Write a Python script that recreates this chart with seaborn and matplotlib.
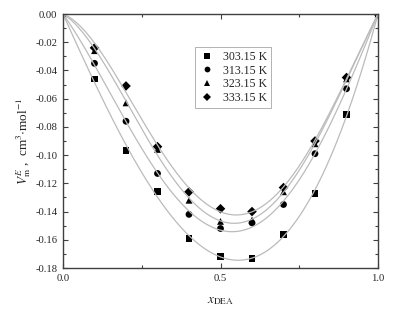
import numpy as np
import pandas as pd
import matplotlib
matplotlib.use("Agg")
import matplotlib.pyplot as plt
import seaborn as sns
from matplotlib.ticker import MultipleLocator

x_dea = [0.0, 0.1, 0.2, 0.3, 0.4, 0.5, 0.6, 0.7, 0.8, 0.9, 1.0]
v_303 = [0.0, -0.046, -0.097, -0.126, -0.159, -0.172, -0.173, -0.156, -0.127, -0.071, 0.0]
v_313 = [0.0, -0.035, -0.076, -0.113, -0.142, -0.152, -0.148, -0.135, -0.099, -0.053, 0.0]
v_323 = [0.0, -0.026, -0.063, -0.096, -0.132, -0.147, -0.146, -0.126, -0.092, -0.046, 0.0]
v_333 = [0.0, -0.024, -0.051, -0.094, -0.126, -0.138, -0.140, -0.123, -0.090, -0.045, 0.0]
labels = ["303.15 K", "313.15 K", "323.15 K", "333.15 K"]
series = [v_303, v_313, v_323, v_333]

rows = []
for lab, vals in zip(labels, series):
    for xv, yv in zip(x_dea, vals):
        rows.append({"x": xv, "v": yv, "T": lab})
df = pd.DataFrame(rows)

# Redlich-Kister fit curves
xf = np.linspace(0, 1, 201)
fit_rows = []
for lab, vals in zip(labels, series):
    x = np.array(x_dea)[1:-1]
    y = np.array(vals)[1:-1]
    z = 2 * x - 1
    A = np.vstack([x * (1 - x) * z ** k for k in range(3)]).T
    coef, *_ = np.linalg.lstsq(A, y, rcond=None)
    zf = 2 * xf - 1
    yf = sum(coef[k] * xf * (1 - xf) * zf ** k for k in range(3))
    for a, b in zip(xf, yf):
        fit_rows.append({"x": a, "v": b, "T": lab})
fit = pd.DataFrame(fit_rows)

sns.set_style("ticks")
plt.rcParams["font.family"] = ["Liberation Serif", "DejaVu Serif"]
plt.rcParams["mathtext.fontset"] = "stix"

fig = plt.figure(figsize=(3.95, 3.18), dpi=100)
ax = fig.add_axes([63 / 395, 1 - 268 / 318, 315 / 395, 254 / 318])

sns.lineplot(data=fit, x="x", y="v", units="T", estimator=None, color="#bbbbbb",
             linewidth=0.9, ax=ax, legend=False)
sns.scatterplot(data=df, x="x", y="v", style="T", markers=["s", "o", "^", "D"],
                color="black", s=24, edgecolor="black", linewidth=0, ax=ax)

ax.set_xlim(0, 1)
ax.set_ylim(-0.18, 0.0)
ax.xaxis.set_major_locator(MultipleLocator(0.5))
ax.xaxis.set_minor_locator(MultipleLocator(0.25))
ax.yaxis.set_major_locator(MultipleLocator(0.02))
ax.yaxis.set_minor_locator(MultipleLocator(0.01))
ax.xaxis.set_major_formatter(matplotlib.ticker.FormatStrFormatter("%.1f"))
ax.yaxis.set_major_formatter(matplotlib.ticker.FormatStrFormatter("%.2f"))
ax.tick_params(which="both", direction="in", top=True, right=True, labelsize=7.7,
               width=0.8, color="#404040")
ax.tick_params(which="major", length=3.5, pad=4)
ax.tick_params(which="minor", length=2)
for s in ax.spines.values():
    s.set_linewidth(1.0)
    s.set_color("#404040")
    s.set_visible(True)

ax.set_xlabel(r"$x_{\mathrm{DEA}}$", fontsize=9.5, labelpad=9)
ax.set_ylabel(r"$V^{E}_{\mathrm{m}}$ ,  cm$^{3}$$\cdot$mol$^{-1}$", fontsize=9.5, labelpad=2)

leg = ax.legend(loc="upper left", bbox_to_anchor=(0.40, 0.895), fontsize=8.6,
                frameon=True, fancybox=False, edgecolor="#909090",
                handletextpad=0.7, borderpad=0.35, labelspacing=0.15, handlelength=1.3,
                markerscale=0.85)
leg.get_frame().set_linewidth(0.6)

fig.savefig("out.png", dpi=100)
